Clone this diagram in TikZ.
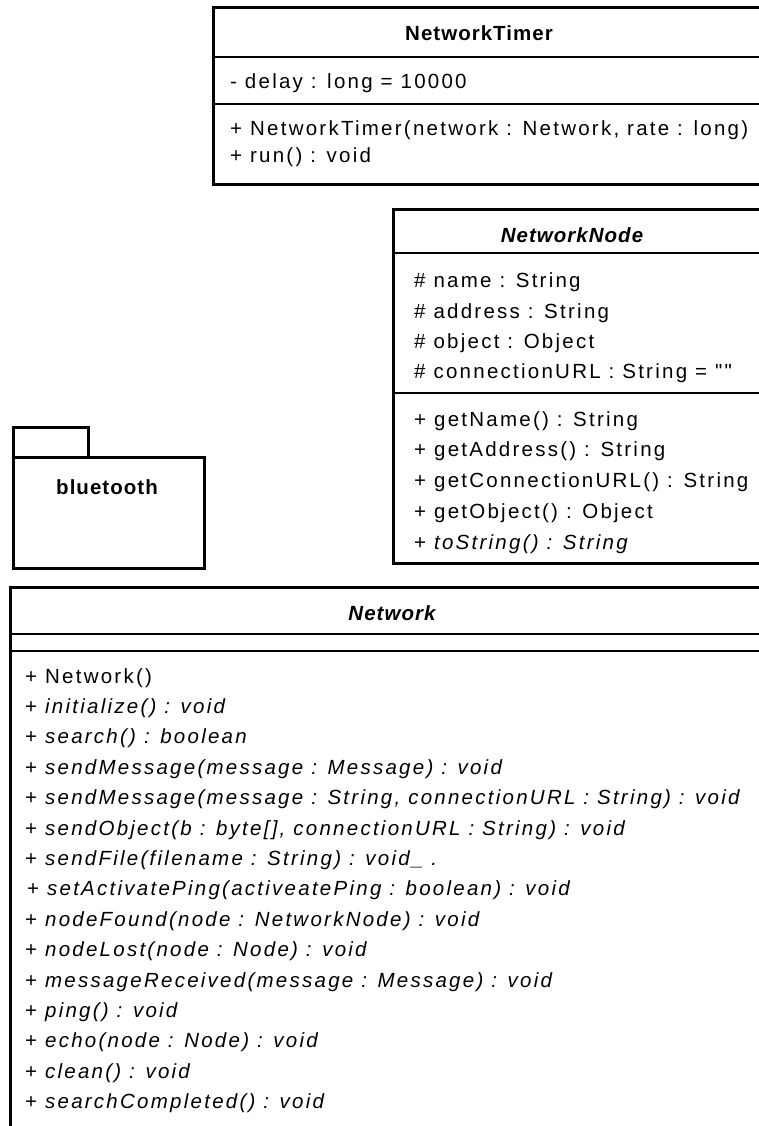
\documentclass[tikz,border=0pt]{standalone}
\usepackage{fontspec}
\setmainfont{Liberation Sans}
\newfontfamily\memberfont[LetterSpace=11]{Liberation Sans}
\newfontfamily\titlefont[LetterSpace=5]{Liberation Sans}

\tikzset{
  frame/.style={line width=3pt},
  divider/.style={line width=2pt},
  member/.style={anchor=base west, inner sep=0pt,
    font=\memberfont\fontsize{20.5}{22}\selectfont},
  classtitle/.style={anchor=base, inner sep=0pt,
    font=\titlefont\bfseries\fontsize{20.5}{22}\selectfont},
  abstracttitle/.style={classtitle,
    font=\titlefont\bfseries\itshape\fontsize{20.5}{22}\selectfont},
}
\newcommand{\abs}[1]{+ \textit{#1}}

\begin{document}
\begin{tikzpicture}[x=1pt,y=-1pt]
\useasboundingbox (0,0) rectangle (759,1126);
\clip (0,0) rectangle (759,1126);
\fill[white] (0,0) rectangle (759,1126);

% ---- class NetworkTimer ----
\draw[frame] (213,8) rectangle (820,185);
\draw[divider] (213,57) -- (820,57);
\draw[divider] (213,104) -- (820,104);
\node[classtitle] (ntTitle) at (479,41) {NetworkTimer};
\node[member] (ntDelay) at (230,89) {- delay : long = 10000};
\node[member] (ntCtor) at (230,136) {+ NetworkTimer(network : Network, rate : long)};
\node[member] (ntRun) at (230,163) {+ run() : void};

% ---- abstract class NetworkNode ----
\draw[frame] (393,209) rectangle (820,563);
\draw[divider] (393,253) -- (820,253);
\draw[divider] (393,393) -- (820,393);
\node[abstracttitle] (nnTitle) at (572,242) {NetworkNode};
\node[member] (nnName) at (414,287) {\# name : String};
\node[member] (nnAddr) at (414,318) {\# address : String};
\node[member] (nnObj) at (414,348) {\# object : Object};
\node[member] (nnUrl) at (414,378) {\# connectionURL : String = ""};
\node[member] (nnGetName) at (414,426) {+ getName() : String};
\node[member] (nnGetAddr) at (414,456) {+ getAddress() : String};
\node[member] (nnGetUrl) at (414,487) {+ getConnectionURL() : String};
\node[member] (nnGetObj) at (414,518) {+ getObject() : Object};
\node[member] (nnToStr) at (414,549) {\abs{toString() : String}};

% ---- package bluetooth ----
\draw[frame] (13,457) rectangle (88,427);
\draw[frame] (13,457) rectangle (204,568);
\node[classtitle] (btLabel) at (107,494) {bluetooth};

% ---- abstract class Network ----
\draw[frame] (10,587) rectangle (820,1160);
\draw[divider] (10,634) -- (820,634);
\draw[divider] (10,651) -- (820,651);
\node[abstracttitle] (nwTitle) at (392,620) {Network};
\node[member] (m1) at (25,683.0) {+ Network()};
\node[member] (m2) at (25,713.4) {\abs{initialize() : void}};
\node[member] (m3) at (25,743.8) {\abs{search() : boolean}};
\node[member] (m4) at (25,774.2) {\abs{sendMessage(message : Message) : void}};
\node[member] (m5) at (25,804.6) {\abs{sendMessage(message : String, connectionURL : String) : void}};
\node[member] (m6) at (25,835.0) {\abs{sendObject(b : byte[], connectionURL : String) : void}};
\node[member] (m7) at (25,865.4) {\abs{sendFile(filename : String) : void\_ .}};
\node[member] (m8) at (27,895.8) {\abs{setActivatePing(activeatePing : boolean) : void}};
\node[member] (m9) at (25,926.2) {\abs{nodeFound(node : NetworkNode) : void}};
\node[member] (m10) at (25,956.6) {\abs{nodeLost(node : Node) : void}};
\node[member] (m11) at (25,987.0) {\abs{messageReceived(message : Message) : void}};
\node[member] (m12) at (25,1017.4) {\abs{ping() : void}};
\node[member] (m13) at (25,1047.8) {\abs{echo(node : Node) : void}};
\node[member] (m14) at (25,1078.2) {\abs{clean() : void}};
\node[member] (m15) at (25,1108.6) {\abs{searchCompleted() : void}};
\end{tikzpicture}
\end{document}
